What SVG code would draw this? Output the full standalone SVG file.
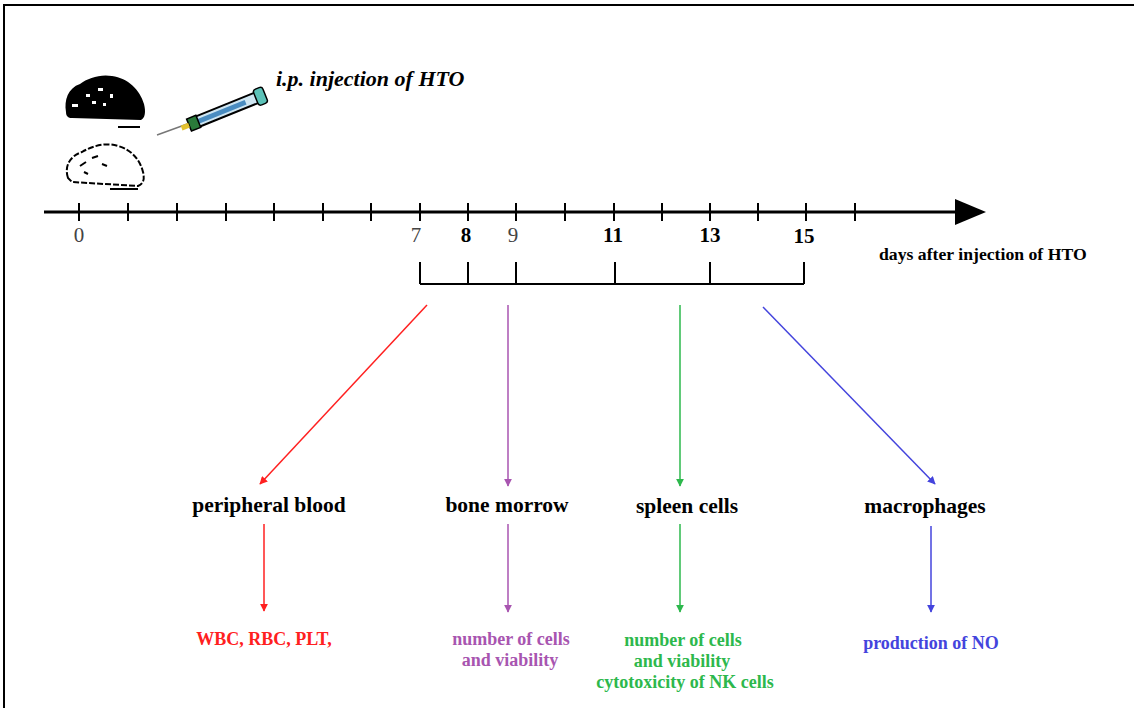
<svg xmlns="http://www.w3.org/2000/svg" width="1134" height="708" viewBox="0 0 1134 708">
<defs>
<style>
text{font-family:"Liberation Serif","Times New Roman","DejaVu Serif",serif;font-weight:bold}
.day{font-size:21px;text-anchor:middle}
.thin{font-weight:normal;fill:#444}
.organ{font-size:21.5px;text-anchor:middle;fill:#000}
.res{font-size:18px;text-anchor:middle}
.axis{stroke:#000;stroke-width:3;fill:none}
.tick{stroke:#000;stroke-width:2}
.br{stroke:#000;stroke-width:2;fill:none}
</style>
<marker id="hr" viewBox="0 0 10 10" refX="9" refY="5" markerWidth="8" markerHeight="8" orient="auto" markerUnits="userSpaceOnUse"><path d="M0,0 L10,5 L0,10 z" fill="#ff2020"/></marker>
<marker id="hp" viewBox="0 0 10 10" refX="9" refY="5" markerWidth="8" markerHeight="8" orient="auto" markerUnits="userSpaceOnUse"><path d="M0,0 L10,5 L0,10 z" fill="#a855b0"/></marker>
<marker id="hg" viewBox="0 0 10 10" refX="9" refY="5" markerWidth="8" markerHeight="8" orient="auto" markerUnits="userSpaceOnUse"><path d="M0,0 L10,5 L0,10 z" fill="#2db84c"/></marker>
<marker id="hb" viewBox="0 0 10 10" refX="9" refY="5" markerWidth="8" markerHeight="8" orient="auto" markerUnits="userSpaceOnUse"><path d="M0,0 L10,5 L0,10 z" fill="#4444dd"/></marker>
</defs>
<rect width="1134" height="708" fill="#fff"/>
<!-- frame -->
<path d="M4,708 V5 H1134" fill="none" stroke="#000" stroke-width="2"/>

<!-- mice and syringe -->
<g id="mouse-black">
<path d="M66,112 C64,100 68,88 80,84 C88,78 100,74 112,76 C128,78 140,90 144,104 C146,112 145,118 141,120 L72,118 C68,118 66,116 66,112 Z" fill="#000"/>
<path d="M118,127 H140" stroke="#000" stroke-width="2"/>
<g fill="#fff"><rect x="72" y="104" width="6" height="3"/><rect x="86" y="94" width="4" height="3"/><rect x="98" y="88" width="5" height="3"/><rect x="110" y="94" width="3" height="4"/><rect x="92" y="101" width="4" height="3"/><rect x="103" y="103" width="3" height="3"/></g>
</g>
<g id="mouse-white">
<path d="M68,178 C64,166 70,156 82,152 C92,146 106,142 118,146 C132,150 140,160 143,172 C145,180 143,184 138,186 L72,182 Z" fill="#fff" stroke="#000" stroke-width="2" stroke-dasharray="6 2"/>
<path d="M80,166 l6,-4 M92,158 l6,-2 M102,164 l5,2 M84,172 l4,2" stroke="#000" stroke-width="2"/>
<path d="M110,189 H138" stroke="#000" stroke-width="2"/>
</g>
<g id="syringe">
<line x1="157" y1="135" x2="190" y2="123" stroke="#777" stroke-width="1.5"/>
<g transform="rotate(-22 225 110)">
<rect x="188" y="105" width="74" height="11" rx="3" fill="#cfe6f2" stroke="#000" stroke-width="2"/>
<rect x="195" y="108" width="52" height="5" fill="#4a8cc0"/>
<rect x="186" y="104" width="10" height="13" fill="#2a7a3a" stroke="#000" stroke-width="1.5"/>
<rect x="258" y="102" width="10" height="17" rx="3" fill="#5cc2b8" stroke="#000" stroke-width="1.5"/>
<rect x="178" y="108" width="8" height="5" fill="#e3c230"/>
</g>
</g>
<text id="injection-label" x="276" y="86" font-size="22" font-style="italic">i.p. injection of HTO</text>

<!-- time axis -->
<g id="time-axis">
<line class="axis" x1="44" y1="212" x2="958" y2="212"/>
<path d="M955,199 L986,212 L955,225 Z" fill="#000"/>
<path class="tick" d="M79,203V221 M128,203V221 M177,203V221 M226,203V221 M274,203V221 M323,203V221 M371,203V221 M420,203V221 M468,203V221 M516,203V221 M565,203V221 M614,203V221 M662,203V221 M710,203V221 M758,203V221 M806,203V221 M855,203V221"/>
<text class="day thin" x="79" y="242">0</text>
<text class="day thin" x="416" y="242">7</text>
<text class="day" x="466" y="242">8</text>
<text class="day thin" x="513" y="242">9</text>
<text class="day" x="613" y="242">11</text>
<text class="day" x="710" y="242">13</text>
<text class="day" x="804" y="243">15</text>
<text x="879" y="260" font-size="17.7">days after injection of HTO</text>
</g>

<!-- sampling days bracket -->
<g id="sampling-bracket">
<path class="br" d="M420,284 H804 M420,262V284 M468,262V284 M516,262V284 M615,262V284 M710,262V284 M804,262V284"/>
</g>

<!-- connectors -->
<g id="connectors" stroke-width="1.5" fill="none">
<line x1="427" y1="305" x2="260" y2="484" stroke="#ff2020" marker-end="url(#hr)"/>
<line x1="508" y1="305" x2="508" y2="486" stroke="#a855b0" marker-end="url(#hp)"/>
<line x1="680" y1="305" x2="680" y2="486" stroke="#2db84c" marker-end="url(#hg)"/>
<line x1="763" y1="307" x2="935" y2="484" stroke="#4444dd" marker-end="url(#hb)"/>
<line x1="264" y1="524" x2="264" y2="611" stroke="#ff2020" marker-end="url(#hr)"/>
<line x1="508" y1="524" x2="508" y2="612" stroke="#a855b0" marker-end="url(#hp)"/>
<line x1="680" y1="524" x2="680" y2="612" stroke="#2db84c" marker-end="url(#hg)"/>
<line x1="931" y1="526" x2="931" y2="612" stroke="#4444dd" marker-end="url(#hb)"/>
</g>

<!-- sample types -->
<g id="peripheral-blood"><text class="organ" x="269" y="512">peripheral blood</text></g>
<g id="bone-marrow"><text class="organ" x="507" y="512">bone morrow</text></g>
<g id="spleen-cells"><text class="organ" x="687" y="513">spleen cells</text></g>
<g id="macrophages"><text class="organ" x="925" y="513">macrophages</text></g>

<!-- measured parameters -->
<g id="blood-results"><text class="res" x="264" y="645" fill="#ff2020">WBC, RBC, PLT,</text></g>
<g id="marrow-results" fill="#a855b0"><text class="res" x="511" y="645">number of cells</text><text class="res" x="510" y="666">and viability</text></g>
<g id="spleen-results" fill="#2db84c"><text class="res" x="683" y="646">number of cells</text><text class="res" x="682" y="667">and  viability</text><text class="res" x="685" y="688">cytotoxicity of NK cells</text></g>
<g id="macrophage-results"><text class="res" x="931" y="649" fill="#4444dd">production of NO</text></g>
</svg>
